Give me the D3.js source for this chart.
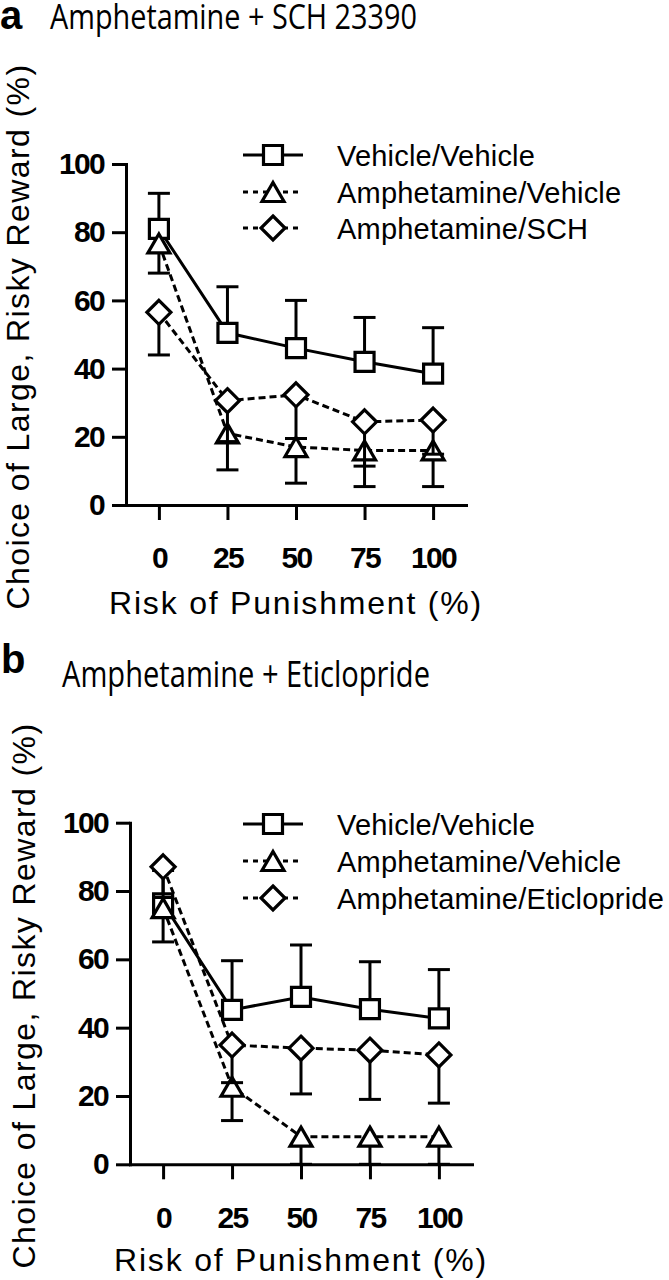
<!DOCTYPE html>
<html lang="en">
<head>
  <meta charset="UTF-8" />
  <title>Amphetamine + SCH 23390 / Eticlopride</title>
  <style>
    body { margin: 0; background: #fff; }
    svg { display: block; background: #fff; }
    .sans { font-family: "Liberation Sans", Arial, sans-serif; fill: #000; }
    .x-title { font-size: 32px; letter-spacing: 1.8px; }
    .y-title { font-size: 32px; letter-spacing: 1.4px; }
    .legend-text { font-size: 29px; letter-spacing: 0.2px; }
    .panel-letter { font-weight: bold; font-size: 40px; }
    .panel-title { font-family: "Open Sans", sans-serif; fill: #000; }
  </style>
</head>
<body>
<svg width="669" height="1280"></svg>
<script src="https://d3js.org/d3.v7.min.js"></script>
<script>
  // shared
  const riskLevels = [0, 25, 50, 75, 100];
  const yTicks = [0, 20, 40, 60, 80, 100];
  const errSide = [1, -1, -1];   // vehicle SEM drawn up, amphetamine groups down

  // panel a : Amphetamine + SCH 23390
  const aNames = ["Vehicle/Vehicle", "Amphetamine/Vehicle", "Amphetamine/SCH"];
  const aVehVeh = [81, 50.5, 46, 42, 38.5];
  const aVehVehSem = [10.4, 13.5, 14, 13, 13.5];
  const aAmphVeh = [76.7, 21, 17, 16, 16];
  const aAmphVehSem = [8.7, 10.7, 10.6, 10.6, 10.6];
  const aAmphSch = [56.5, 30.6, 32.3, 24.4, 24.9];
  const aAmphSchSem = [12.5, 12, 12.8, 13, 10];

  // panel b : Amphetamine + Eticlopride
  const bNames = ["Vehicle/Vehicle", "Amphetamine/Vehicle", "Amphetamine/Eticlopride"];
  const bVehVeh = [76.4, 45.2, 49, 45.4, 42.7];
  const bVehVehSem = [9.6, 14.4, 15.2, 13.9, 14.3];
  const bAmphVeh = [75, 22.7, 8.1, 8.1, 8.1];
  const bAmphVehSem = [9.9, 9.9, 8.1, 8.1, 8.1];
  const bAmphEti = [87.1, 34.9, 34, 33.4, 32];
  const bAmphEtiSem = [9, 11, 13.4, 14.4, 14.1];

  const svg = d3.select("svg");

  // narrow bold digits if the narrow face is there, otherwise squeeze the regular one
  function hasFont(name) {
    const t = svg.append("text").attr("font-size", 40).text("1000 abcdefg");
    t.attr("font-family", "monospace");
    const base = t.node().getComputedTextLength();
    t.attr("font-family", `"${name}", monospace`);
    const w = t.node().getComputedTextLength();
    t.remove();
    return Math.abs(w - base) > 0.5;
  }
  const narrow = hasFont("Liberation Sans Narrow");
  const tickFont = narrow
    ? { family: "Liberation Sans Narrow", size: 32, spacing: 0 }
    : { family: "Liberation Sans", size: 30, spacing: -1.7 };

  const shapes = ["square", "triangle", "diamond"];
  const dashes = [null, "7,4", "7,4"];

  function markerPath(kind) {
    if (kind === "square") { const h = 9.5; return `M${-h},${-h}H${h}V${h}H${-h}Z`; }
    if (kind === "triangle") { const w = 22, t = 19; return `M0,${-t / 2}L${w / 2},${t / 2}L${-w / 2},${t / 2}Z`; }
    const r = 12; return `M0,${-r}L${r},0L0,${r}L${-r},0Z`;
  }

  function drawPanel(p) {
    const x = d3.scaleLinear().domain([-12, 112]).range([p.left, p.right]);
    const y = d3.scaleLinear().domain([0, 100]).range([p.bottom, p.top]);
    const g = svg.append("g");

    // letter + title
    g.append("text").attr("class", "sans panel-letter")
      .attr("x", p.letterX).attr("y", p.letterY).text(p.letter);
    g.append("text").attr("class", "panel-title")
      .attr("x", p.titleX).attr("y", p.titleY)
      .attr("font-size", p.titleSize)
      .attr("textLength", p.titleLen).attr("lengthAdjust", "spacingAndGlyphs")
      .text(p.title);

    // axes
    const yAxis = g.append("g").attr("transform", `translate(${p.left},0)`)
      .call(d3.axisLeft(y).tickValues(yTicks).tickSize(14).tickSizeOuter(0).tickPadding(8));
    const xAxis = g.append("g").attr("transform", `translate(0,${p.bottom})`)
      .call(d3.axisBottom(x).tickValues(riskLevels).tickSize(15).tickSizeOuter(0).tickPadding(27));
    [xAxis, yAxis].forEach(ax => {
      ax.attr("font-family", tickFont.family)
        .attr("font-size", tickFont.size).attr("font-weight", "bold")
        .attr("letter-spacing", tickFont.spacing);
      ax.select(".domain").attr("stroke", "#000").attr("stroke-width", 3)
        .attr("stroke-linecap", "square");
      ax.selectAll(".tick line").attr("stroke", "#000").attr("stroke-width", 3);
      ax.selectAll(".tick text").attr("fill", "#000");
    });

    // axis titles
    g.append("text").attr("class", "sans x-title")
      .attr("text-anchor", "middle")
      .attr("x", (x(0) + x(100)) / 2).attr("y", p.xTitleY)
      .text("Risk of Punishment (%)");
    g.append("text").attr("class", "sans y-title")
      .attr("text-anchor", "middle")
      .attr("transform", `translate(${p.yTitleX},${(y(0) + y(100)) / 2 + 2}) rotate(-90)`)
      .text("Choice of Large, Risky Reward (%)");

    const series = p.means.map((m, i) => ({
      name: p.names[i], shape: shapes[i], dash: dashes[i], side: errSide[i],
      pts: riskLevels.map((r, j) => ({ r, v: m[j], e: p.sems[i][j] }))
    }));

    const line = d3.line().x(d => x(d.r)).y(d => y(d.v));
    series.forEach(s => {
      g.append("path").datum(s.pts).attr("d", line)
        .attr("fill", "none").attr("stroke", "#000").attr("stroke-width", 3)
        .attr("stroke-dasharray", s.dash);
    });

    series.forEach(s => {
      const eb = g.append("g");
      eb.selectAll("line.bar").data(s.pts).join("line").attr("class", "bar")
        .attr("x1", d => x(d.r)).attr("x2", d => x(d.r))
        .attr("y1", d => y(d.v)).attr("y2", d => y(d.v + s.side * d.e))
        .attr("stroke", "#000").attr("stroke-width", 3);
      eb.selectAll("line.cap").data(s.pts).join("line").attr("class", "cap")
        .attr("x1", d => x(d.r) - 11).attr("x2", d => x(d.r) + 11)
        .attr("y1", d => y(d.v + s.side * d.e)).attr("y2", d => y(d.v + s.side * d.e))
        .attr("stroke", "#000").attr("stroke-width", 3);
      g.append("g").selectAll("path").data(s.pts).join("path")
        .attr("transform", d => `translate(${x(d.r)},${y(d.v)})`)
        .attr("d", markerPath(s.shape))
        .attr("fill", "#fff").attr("stroke", "#000").attr("stroke-width", 3.2);
    });

    // legend
    const lg = g.append("g");
    series.forEach((s, i) => {
      const ly = p.legendY[i];
      lg.append("line").attr("x1", 243).attr("x2", 303).attr("y1", ly).attr("y2", ly)
        .attr("stroke", "#000").attr("stroke-width", 3)
        .attr("stroke-dasharray", s.dash ? "5,5" : null);
      lg.append("path").attr("transform", `translate(273,${ly})`)
        .attr("d", markerPath(s.shape))
        .attr("fill", "#fff").attr("stroke", "#000").attr("stroke-width", 3.2);
      lg.append("text").attr("class", "sans legend-text")
        .attr("x", 337).attr("y", ly + 10.5).text(s.name);
    });
  }

  drawPanel({
    letter: "a", letterX: 0, letterY: 29,
    title: "Amphetamine + SCH 23390", titleX: 50, titleY: 29, titleSize: 34, titleLen: 367,
    left: 126, right: 466, top: 164, bottom: 505,
    xTitleY: 614, yTitleX: 29,
    legendY: [155, 192, 228],
    names: aNames,
    means: [aVehVeh, aAmphVeh, aAmphSch],
    sems: [aVehVehSem, aAmphVehSem, aAmphSchSem]
  });

  drawPanel({
    letter: "b", letterX: 1, letterY: 673,
    title: "Amphetamine + Eticlopride", titleX: 62, titleY: 687, titleSize: 37, titleLen: 368,
    left: 130, right: 472, top: 822.7, bottom: 1164.3,
    xTitleY: 1271, yTitleX: 35,
    legendY: [824, 861, 898],
    names: bNames,
    means: [bVehVeh, bAmphVeh, bAmphEti],
    sems: [bVehVehSem, bAmphVehSem, bAmphEtiSem]
  });
</script>
</body>
</html>
